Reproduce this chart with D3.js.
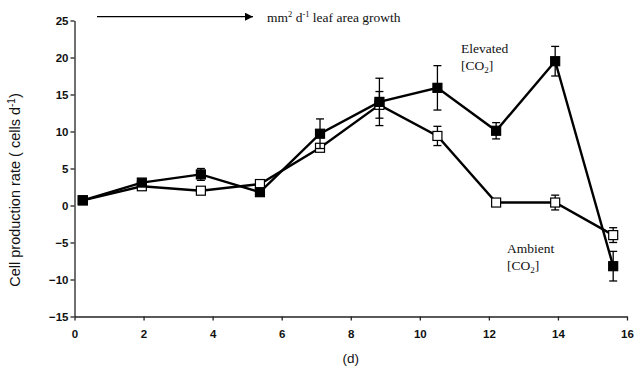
<!DOCTYPE html>
<html>
<head>
<meta charset="utf-8">
<script src="https://cdn.jsdelivr.net/npm/d3@7/dist/d3.min.js"></script>
<style>
  html, body { margin: 0; padding: 0; background: #fff; }
  svg { display: block; }
</style>
</head>
<body>
<svg id="chart" width="636" height="367"></svg>
<script>
// Sampling days
const days = [0.24, 1.95, 3.66, 5.37, 7.11, 8.83, 10.51, 12.21, 13.92, 15.6];
// Cell production rate (cells per day) under elevated CO2, with standard errors
const elevated = [0.7, 3.1, 4.2, 1.8, 9.7, 14.0, 15.9, 10.1, 19.5, -8.2];
const elevatedErr = [0.3, 0.4, 0.8, 0.4, 2.0, 3.2, 3.0, 1.1, 2.0, 2.0];
// Cell production rate under ambient CO2, with standard errors
const ambient = [0.7, 2.6, 2.0, 2.9, 7.8, 13.6, 9.4, 0.4, 0.4, -4.0];
const ambientErr = [0.2, 0.3, 0.3, 0.3, 0.5, 1.8, 1.3, 0.1, 1.0, 1.0];
// Axis ticks
const xTicks = [0, 2, 4, 6, 8, 10, 12, 14, 16];
const yTicks = [-15, -10, -5, 0, 5, 10, 15, 20, 25];

const svg = d3.select("#chart");
const x = d3.scaleLinear().domain([0, 16]).range([74.5, 627]);
const y = d3.scaleLinear().domain([-15, 25]).range([316.5, 20.5]);

const sans = "'Liberation Sans', Arial, sans-serif";
const serif = "'Liberation Serif', 'Times New Roman', serif";

// Axes
const yAxis = svg.append("g")
  .attr("transform", `translate(${x(0)},0)`)
  .call(d3.axisLeft(y).tickValues(yTicks).tickSize(4).tickSizeOuter(0).tickPadding(2));
const xAxis = svg.append("g")
  .attr("transform", `translate(0,${y(-15)})`)
  .call(d3.axisBottom(x).tickValues(xTicks).tickSize(4).tickSizeOuter(0).tickPadding(9));

[xAxis, yAxis].forEach(g => {
  g.selectAll("path, line").attr("stroke", "#222").attr("stroke-width", 1.3);
  g.selectAll("text").attr("font-family", sans).attr("font-size", 11.5)
    .attr("font-weight", "bold").attr("fill", "#111");
});

// Axis titles
svg.append("text")
  .attr("transform", "translate(20,190) rotate(-90)")
  .attr("text-anchor", "middle")
  .attr("font-family", sans).attr("font-size", 14.5).attr("fill", "#111")
  .call(t => {
    t.append("tspan").text("Cell production rate ( cells d");
    t.append("tspan").attr("dy", -5).attr("font-size", 10).text("-1");
    t.append("tspan").attr("dy", 5).text(")");
  });

svg.append("text")
  .attr("x", x(8)).attr("y", 363)
  .attr("text-anchor", "middle")
  .attr("font-family", sans).attr("font-size", 13.5).attr("fill", "#111")
  .text("(d)");

// Series drawing
const line = d3.line().x((d, i) => x(days[i])).y(d => y(d));

function drawSeries(values, errs, filled) {
  const g = svg.append("g");
  g.append("path")
    .datum(values)
    .attr("d", line)
    .attr("fill", "none")
    .attr("stroke", "#000")
    .attr("stroke-width", 2.4)
    .attr("stroke-linejoin", "miter");

  const eb = g.selectAll(".err").data(values).enter().append("g");
  eb.append("line")
    .attr("x1", (d, i) => x(days[i])).attr("x2", (d, i) => x(days[i]))
    .attr("y1", (d, i) => y(d + errs[i])).attr("y2", (d, i) => y(d - errs[i]))
    .attr("stroke", "#000").attr("stroke-width", 1.3);
  [1, -1].forEach(s => {
    eb.append("line")
      .attr("x1", (d, i) => x(days[i]) - 4).attr("x2", (d, i) => x(days[i]) + 4)
      .attr("y1", (d, i) => y(d + s * errs[i])).attr("y2", (d, i) => y(d + s * errs[i]))
      .attr("stroke", "#000").attr("stroke-width", 1.3);
  });

  g.selectAll("rect").data(values).enter().append("rect")
    .attr("x", (d, i) => x(days[i]) - 4.5)
    .attr("y", d => y(d) - 4.5)
    .attr("width", 9).attr("height", 9)
    .attr("fill", filled ? "#000" : "#fff")
    .attr("stroke", "#000")
    .attr("stroke-width", 1.2);
}

drawSeries(ambient, ambientErr, false);
drawSeries(elevated, elevatedErr, true);

// Series labels
function seriesLabel(px, py, name) {
  const t = svg.append("text")
    .attr("font-family", serif).attr("font-size", 13.5).attr("fill", "#111");
  t.append("tspan").attr("x", px).attr("y", py).text(name);
  const t2 = svg.append("text")
    .attr("font-family", serif).attr("font-size", 13.5).attr("fill", "#111")
    .attr("x", px).attr("y", py + 17);
  t2.append("tspan").text("[CO");
  t2.append("tspan").attr("dy", 3).attr("font-size", 9).text("2");
  t2.append("tspan").attr("dy", -3).text("]");
}
seriesLabel(461, 53, "Elevated");
seriesLabel(507, 253, "Ambient");

// Arrow annotation along the top
svg.append("defs").append("marker")
  .attr("id", "arrowhead")
  .attr("viewBox", "0 0 10 10")
  .attr("refX", 10).attr("refY", 5)
  .attr("markerWidth", 8).attr("markerHeight", 8)
  .attr("markerUnits", "userSpaceOnUse")
  .attr("orient", "auto")
  .append("path").attr("d", "M0,0 L10,5 L0,10 Z").attr("fill", "#000");

svg.append("line")
  .attr("x1", 97).attr("x2", 253)
  .attr("y1", 16.7).attr("y2", 16.7)
  .attr("stroke", "#000").attr("stroke-width", 1.3)
  .attr("marker-end", "url(#arrowhead)");

const ann = svg.append("text")
  .attr("x", 267).attr("y", 22)
  .attr("font-family", serif).attr("font-size", 13.5).attr("fill", "#111");
ann.append("tspan").text("mm");
ann.append("tspan").attr("dy", -5).attr("font-size", 8.5).text("2");
ann.append("tspan").attr("dy", 5).text(" d");
ann.append("tspan").attr("dy", -5).attr("font-size", 8.5).text("-1");
ann.append("tspan").attr("dy", 5).text(" leaf area growth");
</script>
</body>
</html>
